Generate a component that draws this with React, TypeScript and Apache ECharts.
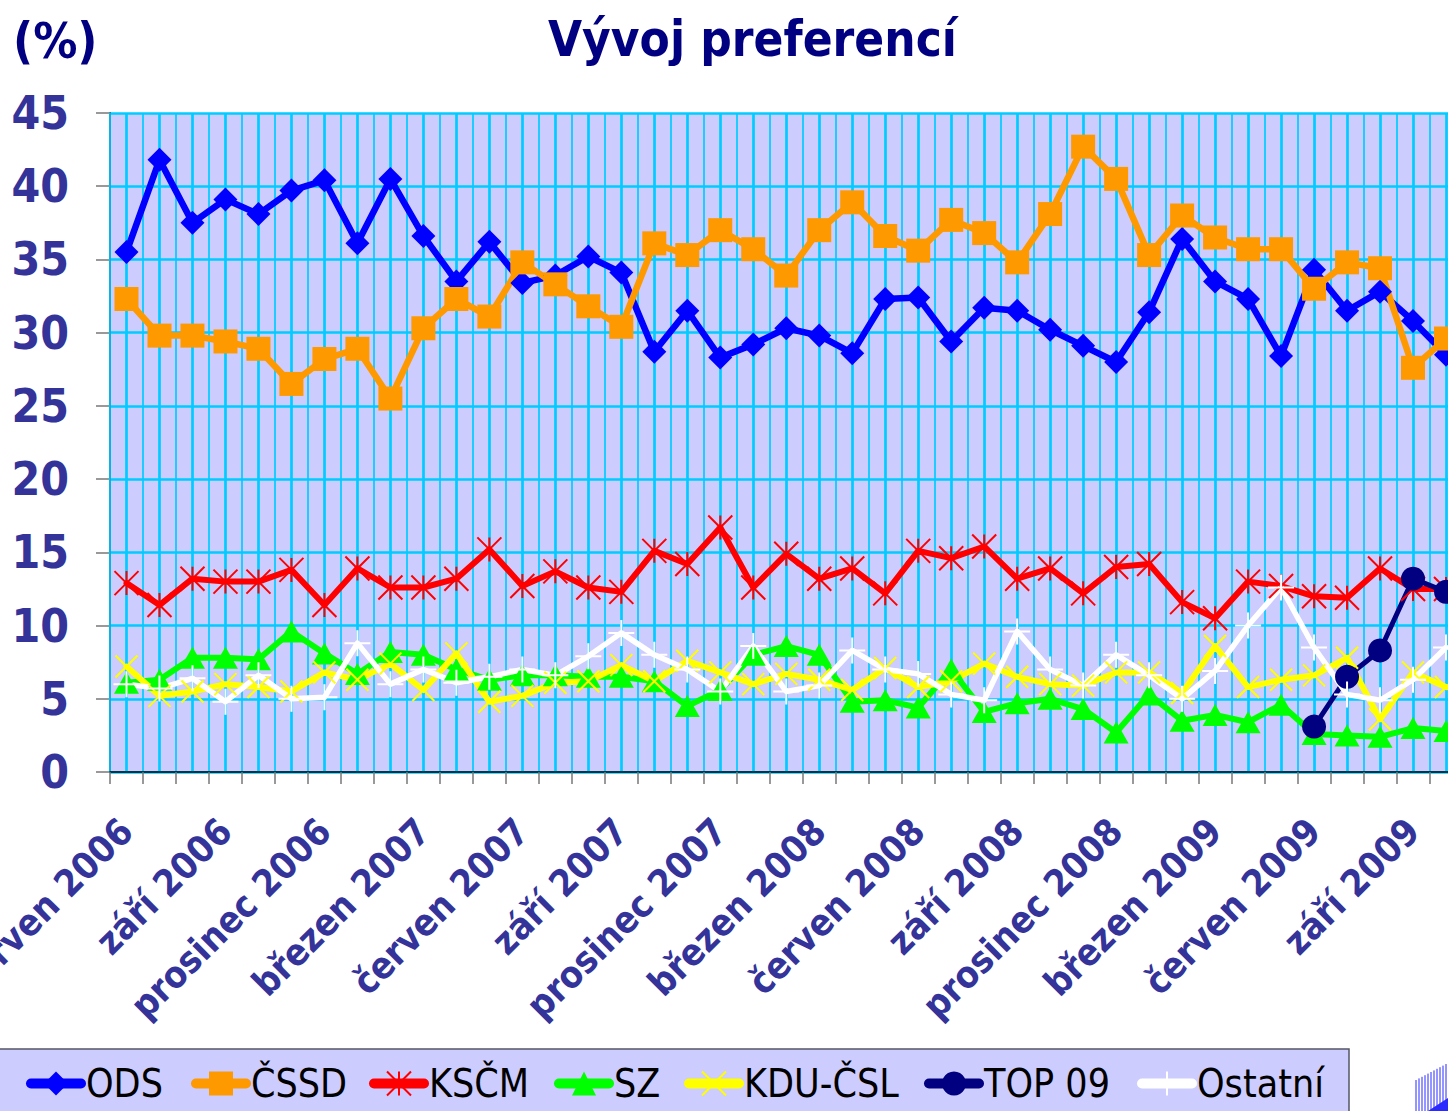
import React, { useEffect, useRef } from 'react';
import * as echarts from 'echarts';

const months = [
  'červen 2006', 'červenec 2006', 'srpen 2006', 'září 2006', 'říjen 2006', 'listopad 2006', 'prosinec 2006',
  'leden 2007', 'únor 2007', 'březen 2007', 'duben 2007', 'květen 2007', 'červen 2007', 'červenec 2007',
  'srpen 2007', 'září 2007', 'říjen 2007', 'listopad 2007', 'prosinec 2007', 'leden 2008', 'únor 2008',
  'březen 2008', 'duben 2008', 'květen 2008', 'červen 2008', 'červenec 2008', 'srpen 2008', 'září 2008',
  'říjen 2008', 'listopad 2008', 'prosinec 2008', 'leden 2009', 'únor 2009', 'březen 2009', 'duben 2009',
  'květen 2009', 'červen 2009', 'červenec 2009', 'srpen 2009', 'září 2009', 'říjen 2009',
];

const ods = [35.5, 41.8, 37.5, 39.1, 38.1, 39.7, 40.4, 36.1, 40.5, 36.6, 33.5, 36.2, 33.4, 33.9, 35.2, 34.1, 28.7, 31.5, 28.3, 29.2, 30.3, 29.8, 28.6, 32.3, 32.4, 29.4, 31.7, 31.5, 30.2, 29.1, 28.0, 31.4, 36.4, 33.5, 32.3, 28.4, 34.3, 31.5, 32.8, 30.8, 28.5];
const cssd = [32.3, 29.8, 29.8, 29.4, 28.9, 26.5, 28.2, 28.9, 25.5, 30.3, 32.3, 31.1, 34.8, 33.3, 31.8, 30.4, 36.1, 35.3, 37.0, 35.7, 33.9, 37.0, 38.9, 36.6, 35.6, 37.7, 36.8, 34.8, 38.1, 42.7, 40.5, 35.3, 38.0, 36.5, 35.7, 35.7, 33.0, 34.8, 34.4, 27.6, 29.6];
const kscm = [12.9, 11.4, 13.2, 13.0, 13.0, 13.8, 11.4, 13.9, 12.6, 12.6, 13.2, 15.2, 12.7, 13.7, 12.6, 12.3, 15.1, 14.2, 16.7, 12.6, 14.9, 13.2, 13.9, 12.2, 15.1, 14.6, 15.4, 13.2, 13.9, 12.2, 14.0, 14.2, 11.6, 10.5, 13.0, 12.7, 12.0, 11.9, 13.9, 12.5, 12.5];
const sz = [6.1, 6.3, 7.8, 7.8, 7.7, 9.6, 8.1, 6.7, 8.2, 8.0, 7.0, 6.3, 6.6, 6.6, 6.5, 6.5, 6.2, 4.5, 5.6, 8.0, 8.6, 8.0, 4.8, 4.9, 4.4, 7.0, 4.1, 4.7, 5.0, 4.3, 2.7, 5.3, 3.5, 3.9, 3.4, 4.6, 2.6, 2.5, 2.4, 3.0, 2.8];
const kdu = [7.2, 5.2, 5.5, 6.0, 5.8, 5.5, 6.8, 6.3, 7.4, 5.6, 8.1, 4.8, 5.2, 6.1, 6.2, 7.3, 6.2, 7.6, 6.8, 6.0, 6.7, 6.3, 5.6, 7.1, 5.8, 6.2, 7.4, 6.5, 6.0, 5.9, 6.8, 6.8, 5.4, 8.6, 5.8, 6.3, 6.6, 7.8, 3.6, 6.8, 5.8];
const top09 = [null, null, null, null, null, null, null, null, null, null, null, null, null, null, null, null, null, null, null, null, null, null, null, null, null, null, null, null, null, null, null, null, null, null, null, null, 3.1, 6.5, 8.3, 13.2, 12.3];
const ostatni = [6.0, 5.7, 6.4, 4.8, 6.6, 5.0, 5.1, 8.8, 6.0, 7.0, 6.1, 6.5, 7.0, 6.6, 7.9, 9.5, 8.0, 7.0, 5.5, 8.6, 5.5, 5.9, 8.3, 7.0, 6.7, 5.3, 4.9, 9.6, 7.0, 5.9, 8.0, 6.6, 5.0, 6.9, 10.0, 12.6, 8.5, 5.3, 4.9, 6.3, 8.5];

const seriesNames = ['ODS', 'ČSSD', 'KSČM', 'SZ', 'KDU-ČSL', 'TOP 09', 'Ostatní'];
const yMin = 0;
const yMax = 45;
const yStep = 5;

const FONT = '"DejaVu Sans Condensed", "DejaVu Sans", sans-serif';
const ASTERISK = 'path://M0 0L10 10M10 0L0 10M5 0L5 10';
const XMARK = 'path://M0 0L10 10M10 0L0 10';
const PLUS = 'path://M5 0L5 10M0 5L10 5';

// legend item left positions (layout, px)
const legendLefts = [22, 187, 365, 550, 680, 920, 1133];

function makeSeries(name: string, data: (number | null)[], color: string, symbol: string, symbolSize: any, lineWidth: number, stroked: boolean) {
  return {
    name,
    type: 'line',
    data,
    xAxisIndex: 0,
    yAxisIndex: 0,
    symbol,
    symbolSize,
    showSymbol: true,
    showAllSymbol: true,
    connectNulls: false,
    lineStyle: { color, width: lineWidth, cap: 'round', join: 'round' },
    itemStyle: stroked
      ? { color, borderColor: color, borderWidth: 2 }
      : { color, borderWidth: 0 },
    emphasis: { disabled: true },
    z: 3,
  };
}

export default function App() {
  const ref = useRef<HTMLDivElement>(null);
  useEffect(() => {
    if (!ref.current) return;
    const chart = echarts.init(ref.current, undefined, { renderer: 'svg' });
    const halfCats = Array.from({ length: months.length * 2 }, () => '');
    const logoLines = Array.from({ length: 12 }, (_, k) => ({
      type: 'line',
      shape: { x1: 1416 + k * 3, y1: 1080 - k * 1.6, x2: 1416 + k * 3, y2: 1111 },
      style: { stroke: '#2a2aff', lineWidth: 1 },
      silent: true,
    }));
    chart.setOption({
      animation: false,
      backgroundColor: '#ffffff',
      title: [
        {
          text: 'Vývoj preferencí',
          left: 543,
          top: 10,
          textStyle: { fontFamily: FONT, fontSize: 49, fontWeight: 'bold', color: '#000080' },
        },
        {
          text: '(%)',
          left: 8,
          top: 12,
          textStyle: { fontFamily: FONT, fontSize: 49, fontWeight: 'bold', color: '#000080' },
        },
      ],
      grid: {
        left: 110,
        top: 113,
        right: -14.5,
        bottom: 339,
        show: true,
        backgroundColor: '#CCCCFF',
        borderWidth: 0,
        containLabel: false,
        outerBoundsMode: 'none',
      },
      legend: seriesNames.map((n, i) => ({
        left: legendLefts[i] + 4,
        top: 1064,
        orient: 'horizontal',
        itemWidth: 50,
        itemHeight: 30,
        itemGap: 0,
        padding: 0,
        lineStyle: { width: 10, cap: 'round' },
        textStyle: { fontFamily: FONT, fontSize: 39, color: '#000000' },
        data: [n],
        selectedMode: false,
      })),
      xAxis: [
        {
          type: 'category',
          data: months,
          boundaryGap: true,
          position: 'bottom',
          axisLine: { show: true, onZero: false, lineStyle: { color: '#000000', width: 1.5 } },
          axisTick: { show: true, interval: 0, length: 12, alignWithLabel: false, lineStyle: { color: '#777777', width: 1.5 } },
          axisLabel: {
            interval: 2,
            rotate: 45,
            align: 'right',
            verticalAlign: 'middle',
            margin: 53,
            fontFamily: FONT,
            fontSize: 37,
            fontWeight: 'bold',
            color: '#333399',
          },
          splitLine: { show: true, interval: 0, lineStyle: { color: '#00CCFF', width: 1.7 } },
          z: 2,
        },
        {
          type: 'category',
          data: halfCats,
          boundaryGap: true,
          position: 'bottom',
          axisLine: { show: false },
          axisTick: { show: false },
          axisLabel: { show: false },
          splitLine: {
            show: true,
            interval: (index: number) => index % 2 === 1,
            lineStyle: { color: '#00CCFF', width: 2.7 },
          },
          z: 1,
        },
      ],
      yAxis: {
        type: 'value',
        min: yMin,
        max: yMax,
        interval: yStep,
        axisLine: { show: true, lineStyle: { color: '#000000', width: 1.5 } },
        axisTick: { show: true, length: 14, lineStyle: { color: '#777777', width: 1.5 } },
        axisLabel: {
          margin: 41,
          fontFamily: FONT,
          fontSize: 46,
          fontWeight: 'bold',
          color: '#333399',
        },
        splitLine: { show: true, lineStyle: { color: '#00CCFF', width: 2.7 } },
      },
      graphic: [
        {
          type: 'rect',
          z: -1,
          shape: { x: -5, y: 1049, width: 1354, height: 80 },
          style: { fill: '#CCCCFF', stroke: '#555566', lineWidth: 1.5 },
          silent: true,
        },
        {
          type: 'group',
          children: [
            ...logoLines,
            {
              type: 'polygon',
              shape: { points: [[1428, 1111], [1448, 1098], [1448, 1111]] },
              style: { fill: '#2a2aff' },
            },
          ],
          silent: true,
        },
      ],
      series: [
        makeSeries('ODS', ods, '#0000FF', 'diamond', 24, 6.5, false),
        makeSeries('ČSSD', cssd, '#FF9900', 'rect', 24, 6.5, false),
        makeSeries('KSČM', kscm, '#FF0000', ASTERISK, 24, 6, true),
        makeSeries('SZ', sz, '#00FF00', 'triangle', [25, 22], 6, false),
        makeSeries('KDU-ČSL', kdu, '#FFFF00', XMARK, 22, 6, true),
        makeSeries('TOP 09', top09, '#000080', 'circle', 24, 5, false),
        makeSeries('Ostatní', ostatni, '#FFFFFF', PLUS, 26, 5.5, true),
      ],
    });
    return () => chart.dispose();
  }, []);
  return (
    <div
      ref={ref}
      style={{ position: 'absolute', left: 0, top: 0, width: 1448, height: 1111, overflow: 'hidden' }}
    />
  );
}
